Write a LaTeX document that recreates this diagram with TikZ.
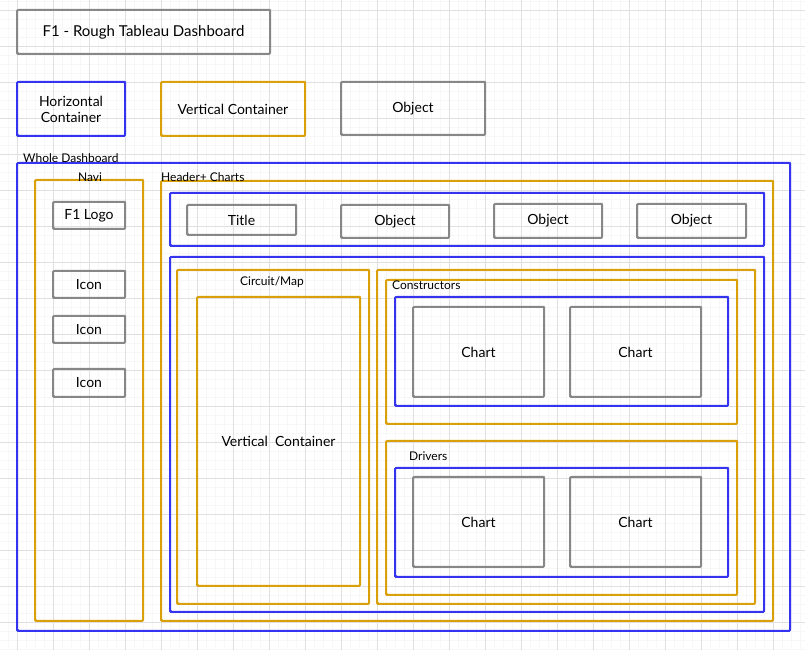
\documentclass[tikz,border=0pt]{standalone}
\usepackage{fontspec}
\setmainfont{Lato}
\definecolor{hblue}{RGB}{52,52,240}
\definecolor{vorange}{RGB}{217,160,10}
\definecolor{objgray}{RGB}{135,135,135}
\begin{document}
\begin{tikzpicture}[x=1pt,y=-1pt,
  box/.style={draw,line width=1.9pt,rounded corners=1pt,inner sep=0pt,align=center,font=\fontsize{14}{16}\selectfont,
    postaction={draw,line width=.6pt,transform canvas={shift={(.9pt,.8pt)}}}},
  obj/.style={box,draw=objgray},
  hcont/.style={box,draw=hblue},
  vcont/.style={box,draw=vorange},
  tag/.style={inner sep=1pt,font=\fontsize{12}{14}\selectfont}]
\fill[white] (0,0) rectangle (805,650);
\useasboundingbox (0,0) rectangle (805,650);
% grid
\foreach \k in {0,...,88} \draw[black!3,line width=.4pt] ({8.3+9*\k},0)--({8.3+9*\k},650);
\foreach \k in {0,...,72} \draw[black!3,line width=.4pt] (0,{1.3+9*\k})--(805,{1.3+9*\k});
\foreach \k in {0,...,21} \draw[black!12,line width=.6pt] ({17.3+36*\k},0)--({17.3+36*\k},650);
\foreach \k in {0,...,17} \draw[black!12,line width=.6pt] (0,{10.3+36*\k})--(805,{10.3+36*\k});

% legend
\node[obj,minimum width=253pt,minimum height=44pt,font=\fontsize{15}{17}\selectfont] (title) at (143.5,32) {F1 - Rough Tableau Dashboard};
\node[hcont,minimum width=108pt,minimum height=54pt] (leghc) at (71,109) {Horizontal\\Container};
\node[vcont,minimum width=144pt,minimum height=54pt] (legvc) at (233,109) {Vertical Container};
\node[obj,minimum width=144pt,minimum height=53pt] (legobj) at (413,108.5) {Object};

% whole dashboard
\node[hcont,minimum width=773pt,minimum height=468pt] (whole) at (403.5,397) {};
\node[tag,anchor=west] (wholetag) at (22,158) {Whole Dashboard};

% navi
\node[vcont,minimum width=108pt,minimum height=441pt] (navi) at (89,400.5) {};
\node[tag] (navitag) at (90,177) {Navi};
\node[obj,minimum width=72pt,minimum height=27pt] (logo) at (89,215.5) {F1 Logo};
\node[obj,minimum width=72pt,minimum height=27pt] (icona) at (89,284.5) {Icon};
\node[obj,minimum width=72pt,minimum height=27pt] (iconb) at (89,329.5) {Icon};
\node[obj,minimum width=72pt,minimum height=28pt] (iconc) at (89,383) {Icon};

% header + charts
\node[vcont,minimum width=612pt,minimum height=440pt] (hc) at (467,401) {};
\node[tag,anchor=west] (hctag) at (160,177) {Header+ Charts};
\node[hcont,minimum width=594pt,minimum height=53pt] (head) at (467,219.5) {};
\node[obj,minimum width=109pt,minimum height=30pt] (ttl) at (241.5,220) {Title};
\node[obj,minimum width=108pt,minimum height=33pt] (obja) at (395,221.5) {Object};
\node[obj,minimum width=108pt,minimum height=34pt] (objb) at (548,221) {Object};
\node[obj,minimum width=109pt,minimum height=34pt] (objc) at (691.5,221) {Object};

\node[hcont,minimum width=594pt,minimum height=355pt] (body) at (467,434.5) {};

% circuit / map
\node[vcont,minimum width=192pt,minimum height=334pt] (circ) at (273,437) {};
\node[tag] (circtag) at (272,282) {Circuit/Map};
\node[vcont,minimum width=163pt,minimum height=289pt] (map) at (278.5,441.5) {Vertical\enspace Container};

% constructors and drivers
\node[vcont,minimum width=378pt,minimum height=334pt] (side) at (566,437) {};
\node[vcont,minimum width=351pt,minimum height=144pt] (cons) at (561.5,352) {};
\node[tag,anchor=west] (constag) at (391,285) {Constructors};
\node[hcont,minimum width=333pt,minimum height=109pt] (consrow) at (561.5,351.5) {};
\node[obj,minimum width=131pt,minimum height=90pt] (chartc1) at (478.5,352) {Chart};
\node[obj,minimum width=131pt,minimum height=90pt] (chartc2) at (635.5,352) {Chart};

\node[vcont,minimum width=351pt,minimum height=154pt] (drv) at (561.5,518) {};
\node[tag,anchor=west] (drvtag) at (408,456) {Drivers};
\node[hcont,minimum width=333pt,minimum height=109pt] (drvrow) at (561.5,522.5) {};
\node[obj,minimum width=131pt,minimum height=90pt] (chartd1) at (478.5,522) {Chart};
\node[obj,minimum width=131pt,minimum height=90pt] (chartd2) at (635.5,522) {Chart};
\end{tikzpicture}
\end{document}
